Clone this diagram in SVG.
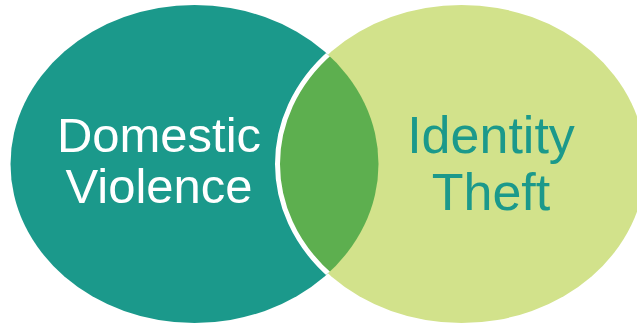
<svg xmlns="http://www.w3.org/2000/svg" width="637" height="324" viewBox="0 0 637 324">
  <style>
    .lbl { font-family: "Liberation Sans", Arial, sans-serif; text-anchor: middle; }
    .dv { fill: #ffffff; font-size: 49px; }
    .it { fill: #1b998b; font-size: 52px; }
  </style>
  <defs>
    <clipPath id="clipRight">
      <ellipse cx="461.5" cy="164" rx="184" ry="159"/>
    </clipPath>
    <clipPath id="clipLeft">
      <ellipse cx="194.5" cy="164" rx="184" ry="159"/>
    </clipPath>
  </defs>
  <rect width="637" height="324" fill="#ffffff"/>
  <g id="domestic-violence">
    <ellipse cx="194.5" cy="164" rx="184" ry="159" fill="#1b998b"/>
    <text class="lbl dv" x="159" y="152">Domestic</text>
    <text class="lbl dv" x="159" y="203">Violence</text>
  </g>
  <g id="identity-theft">
    <ellipse cx="461.5" cy="164" rx="184" ry="159" fill="#d2e28b"/>
    <text class="lbl it" x="491" y="153">Identity</text>
    <text class="lbl it" x="491" y="210">Theft</text>
  </g>
  <g id="overlap">
    <ellipse cx="194.5" cy="164" rx="184" ry="159" fill="#5daf4f" clip-path="url(#clipRight)"/>
    <ellipse cx="461.5" cy="164" rx="184" ry="159" fill="none" stroke="#ffffff" stroke-width="5" clip-path="url(#clipLeft)"/>
  </g>
</svg>
